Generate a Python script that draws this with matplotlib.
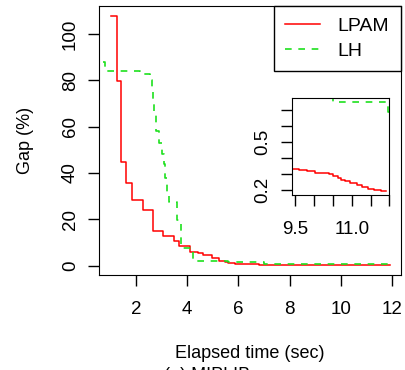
import matplotlib
matplotlib.use("Agg")
import matplotlib.pyplot as plt

plt.rcParams['font.family'] = ['Liberation Sans', 'DejaVu Sans']

# LPAM gap (%) over time, step curve
lpam_t = [1.01, 1.25, 1.43, 1.61, 1.86, 2.29, 2.68, 3.05, 3.50, 3.69, 4.10, 4.43, 4.60,
          4.96, 5.25, 5.48, 5.60, 5.88, 6.30, 6.80, 7.50, 8.30, 9.00, 9.35, 9.60, 9.80,
          10.03, 10.39, 10.50, 10.63, 10.72, 10.83, 10.94, 11.13, 11.27, 11.43, 11.60,
          11.78, 11.92]
lpam_gap = [107.6, 79.6, 44.6, 35.5, 28.3, 24.0, 15.1, 12.8, 10.6, 8.6, 6.0, 5.3, 4.6,
            3.2, 2.2, 1.5, 1.2, 0.7, 0.6, 0.5, 0.45, 0.40, 0.37, 0.336, 0.325, 0.319,
            0.31, 0.30, 0.29, 0.277, 0.267, 0.256, 0.246, 0.231, 0.221, 0.21, 0.204,
            0.198, 0.198]

# LH gap (%) over time, step curve
lh_t = [0.70, 0.78, 2.17, 2.55, 2.62, 2.68, 2.72, 2.80, 2.88, 3.00, 3.08, 3.15, 3.22,
        3.30, 3.62, 3.76, 4.24, 5.60, 7.00, 10.50, 11.97, 12.00]
lh_gap = [88.0, 84.0, 82.5, 80.0, 76.0, 71.0, 65.0, 58.0, 53.0, 48.0, 44.0, 38.0, 32.0,
          27.5, 19.5, 7.5, 2.2, 1.4, 0.9, 0.756, 0.69, 0.69]

GREEN = '#1ee01e'

fig = plt.figure(figsize=(4.06, 3.70), dpi=100)
ax = fig.add_axes([0.2438, 0.2568, 0.7439, 0.727])

ax.plot(lpam_t, lpam_gap, drawstyle='steps-post', color='red', lw=1.1, label='LPAM')
ax.plot(lh_t, lh_gap, drawstyle='steps-post', color=GREEN, lw=1.2,
        ls=(0, (4, 4)), label='LH')

ax.set_xlim(0.555, 12.35)
ax.set_ylim(-4, 112)
ax.set_xticks([2, 4, 6, 8, 10, 12])
ax.set_yticks([0, 20, 40, 60, 80, 100])
ax.tick_params(direction='out', length=8, width=1, labelsize=13.5, pad=11)
ax.tick_params(axis='y', pad=6.5)
for lab in ax.get_yticklabels():
    lab.set_rotation(90)
    lab.set_va('center')
ax.set_xlabel('Elapsed time (sec)', fontsize=13, labelpad=19)
ax.set_ylabel('Gap (%)', fontsize=13, labelpad=20)

leg = ax.legend(loc='upper right', fontsize=14, handlelength=1.8, handletextpad=0.9,
                borderpad=0.6, labelspacing=0.35, borderaxespad=0, fancybox=False,
                framealpha=1)
leg.get_frame().set_edgecolor('black')
leg.get_frame().set_linewidth(1.0)

# zoomed inset of the tail
ins = fig.add_axes([0.7184, 0.473, 0.2405, 0.263])
ins.plot(lpam_t, lpam_gap, drawstyle='steps-post', color='red', lw=1.1)
ins.plot(lh_t, lh_gap, drawstyle='steps-post', color=GREEN, lw=1.2, ls=(0, (4, 4)))
ins.set_xlim(9.4, 12.0)
ins.set_ylim(0.17, 0.78)
ins.set_xticks([9.5, 10.0, 10.5, 11.0, 11.5, 12.0])
ins.set_xticklabels(['9.5', '', '', '11.0', '', ''])
ins.set_yticks([0.2, 0.3, 0.4, 0.5, 0.6, 0.7])
ins.set_yticklabels(['0.2', '', '', '0.5', '', ''], rotation=90, va='center')
ins.tick_params(direction='out', length=8, width=1, labelsize=13.5, pad=11)
ins.tick_params(axis='y', pad=6.5)

# caption, cut off at the bottom edge as in the source
fig.text(0.51, 0.007, '(a) MIPLIB', fontsize=13, ha='center', va='top')

fig.savefig('out.png', dpi=100)
